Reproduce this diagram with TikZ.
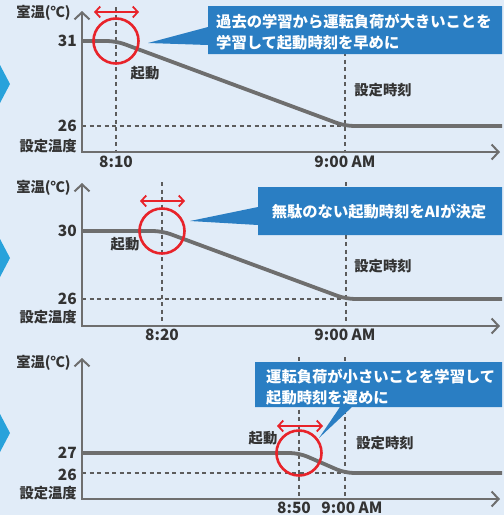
\documentclass[tikz,border=0pt]{standalone}
\usepackage{fontspec}
\setmainfont{Noto Sans CJK JP}
\usetikzlibrary{arrows.meta}
\definecolor{bg}{HTML}{E1ECF8}
\definecolor{callout}{HTML}{2A7EC3}
\definecolor{chev}{HTML}{28A2DB}
\definecolor{axisgray}{HTML}{6E6E6E}
\definecolor{txt}{HTML}{333333}
\definecolor{redc}{HTML}{E8232A}
\tikzset{
  axis/.style={draw=axisgray, line width=2.6pt, line join=miter, {Straight Barb[length=7pt,width=15pt,line width=2pt]}-{Straight Barb[length=7pt,width=15pt,line width=2pt]}},
  curve/.style={draw=axisgray, line width=3.8pt, rounded corners=9pt},
  guide/.style={draw=txt!80, line width=1.3pt, dash pattern=on 4pt off 3.5pt},
  ring/.style={draw=redc, line width=2.6pt},
  span/.style={draw=redc, line width=1.8pt, {Straight Barb[length=5pt,width=11pt]}-{Straight Barb[length=5pt,width=11pt]}},
  bubble/.style={fill=callout},
  chevron/.style={fill=chev},
  lbl/.style={text=txt, inner sep=0pt, font=\fontsize{14.3}{16}\selectfont\bfseries},
  num/.style={text=txt, inner sep=0pt, font=\fontsize{15.5}{17}\selectfont\bfseries},
  btxt/.style={text=white, inner sep=0pt, align=left, font=\fontsize{15.3}{20.5}\selectfont\bfseries},
}
\begin{document}
\begin{tikzpicture}[x=1pt,y=-1pt]
\fill[bg] (0,0) rectangle (504,515);
\useasboundingbox (0,0) rectangle (504,515);

% chevrons
\fill[chevron] (0,65) -- (10,84) -- (0,103) -- cycle;
\fill[chevron] (0,239) -- (10,258) -- (0,277) -- cycle;
\fill[chevron] (0,414) -- (10,433) -- (0,452) -- cycle;

% ================= Panel 1 =================
\draw[guide] (116,7) -- (116,152);
\draw[guide] (345,7) -- (345,152);
\draw[guide] (82,126) -- (345,126);
\draw[curve] (82,41) -- (116,41) -- (345,126) -- (502,126);
\draw[axis] (82,11) -- (82,152) -- (500,152);
\draw[ring] (116,41) circle (22.5);
\draw[span] (94,12) -- (139,12);
\fill[bubble] (208,6) -- (502,6) -- (502,54) -- (208,54) -- (208,45) -- (148,43) -- (208,27) -- cycle;
\node[btxt, anchor=west] (b1) at (216,32) {過去の学習から運転負荷が大きいことを\\学習して起動時刻を早めに};
\node[lbl] (y1) at (43.5,13) {室温(℃)};
\node[num, anchor=east] (t1) at (77,41) {31};
\node[num, anchor=east] (s1) at (77,126) {26};
\node[lbl, anchor=east] (d1) at (77,146) {設定温度};
\node[lbl] (k1) at (145,73) {起動};
\node[lbl] (p1) at (383,90) {設定時刻};
\node[num] (x1) at (116,162) {8:10};
\node[num] (n1) at (345,162) {9:00 AM};

% ================= Panel 2 =================
\draw[guide] (162,182) -- (162,326);
\draw[guide] (346,182) -- (346,326);
\draw[guide] (82,299) -- (346,299);
\draw[curve] (82,231) -- (162,231) -- (346,299) -- (502,299);
\draw[axis] (82,183) -- (82,326) -- (500,326);
\draw[ring] (162,231) circle (22.5);
\draw[span] (140,201) -- (185,201);
\fill[bubble] (258,187) -- (502,187) -- (502,235) -- (258,235) -- (258,225) -- (190,221) -- (258,207) -- cycle;
\node[btxt] (b2) at (379,212) {無駄のない起動時刻をAIが決定};
\node[lbl] (y2) at (43.5,188) {室温(℃)};
\node[num, anchor=east] (t2) at (77,231) {30};
\node[num, anchor=east] (s2) at (77,299) {26};
\node[lbl, anchor=east] (d2) at (77,317) {設定温度};
\node[lbl] (k2) at (125,244) {起動};
\node[lbl] (p2) at (383,266) {設定時刻};
\node[num] (x2) at (162,335) {8:20};
\node[num] (n2) at (345,335) {9:00 AM};

% ================= Panel 3 =================
\draw[guide] (299,357) -- (299,499);
\draw[guide] (345,357) -- (345,499);
\draw[guide] (82,473) -- (345,473);
\draw[curve] (82,453) -- (299,453) -- (345,473) -- (502,473);
\draw[axis] (82,358) -- (82,499) -- (500,499);
\draw[ring] (299,453) circle (22.5);
\draw[span] (277,426) -- (323,426);
\fill[bubble] (255,362) -- (502,362) -- (502,407) -- (352,407) -- (319,438) -- (340,407) -- (255,407) -- cycle;
\node[btxt, anchor=west] (b3) at (266,387) {運転負荷が小さいことを学習して\\起動時刻を遅めに};
\node[lbl] (y3) at (43.5,363) {室温(℃)};
\node[num, anchor=east] (t3) at (77,453) {27};
\node[num, anchor=east] (s3) at (77,475) {26};
\node[lbl, anchor=east] (d3) at (77,493) {設定温度};
\node[lbl] (k3) at (263,438) {起動};
\node[lbl] (p3) at (385,443) {設定時刻};
\node[num] (x3) at (294,508) {8:50};
\node[num] (n3) at (352,508) {9:00 AM};
\end{tikzpicture}
\end{document}
